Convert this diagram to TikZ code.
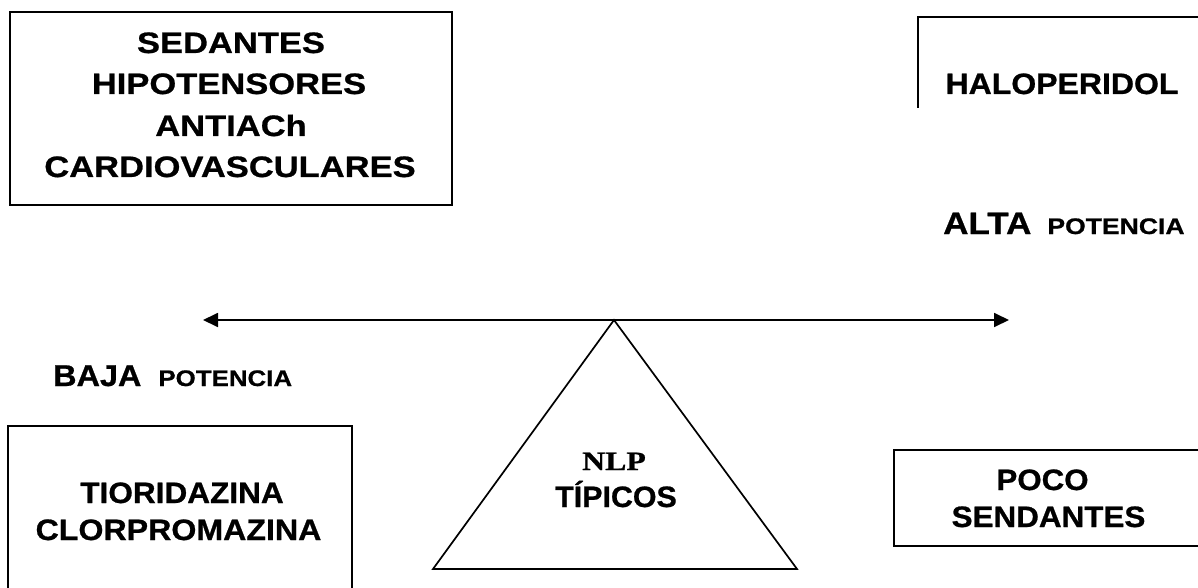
\documentclass[tikz,border=0pt]{standalone}
\usepackage{fontspec}
\setmainfont{Liberation Sans}
\newfontfamily\timesf{Liberation Serif}
\usetikzlibrary{arrows.meta}
\newcommand{\sz}[2]{\fontsize{#1}{#1}\selectfont\addfontfeature{FakeStretch=#2,FakeBold=0.8}}
\tikzset{
  edge/.style={line width=1.7pt, line join=miter},
  txt/.style={inner sep=0pt, anchor=base, font=\bfseries},
  boxst/.style={draw, edge, inner sep=0pt},
  lever/.style={line width=1.8pt, {Triangle[length=15pt,width=14pt]}-{Triangle[length=15pt,width=14pt]}}
}
\begin{document}
\begin{tikzpicture}[x=1pt,y=-1pt]
\useasboundingbox (0,0) rectangle (1198,588);
\fill[white] (0,0) rectangle (1198,588);
\begin{scope}
\clip (0,0) rectangle (1198,588);
% top-left box
\node[boxst, minimum width=442pt, minimum height=193pt] (sedbox) at (231,108.5) {};
\node[txt] (t1) at (231,53) {\sz{29.5}{1.17}SEDANTES};
\node[txt] (t2) at (229,94) {\sz{29.5}{1.17}HIPOTENSORES};
\node[txt] (t3) at (231,136) {\sz{29.5}{1.17}ANTIACh};
\node[txt] (t4) at (230,177) {\sz{29.5}{1.17}CARDIOVASCULARES};
% haloperidol box (open to the right)
\coordinate (h1) at (1210,17);
\coordinate (h2) at (918,17);
\coordinate (h3) at (918,108);
\draw[edge] (h1) -- (h2) -- (h3);
\node[txt] (halo) at (1062,94) {\sz{29.5}{1.085}HALOPERIDOL};
% alta potencia
\node[txt, anchor=base west] (alta) at (943,234) {\sz{31}{1.13}ALTA\hspace{16pt}\sz{22.5}{1.18}POTENCIA};
% baja potencia
\node[txt, anchor=base west] (baja) at (53,386) {\sz{30}{1.08}BAJA\hspace{17pt}\sz{22.5}{1.15}POTENCIA};
% tioridazina box (open at the bottom)
\coordinate (c1) at (8,600);
\coordinate (c2) at (8,426);
\coordinate (c3) at (352,426);
\coordinate (c4) at (352,600);
\draw[edge] (c1) -- (c2) -- (c3) -- (c4);
\node[txt] (tio) at (182,503) {\sz{29.5}{1.07}TIORIDAZINA};
\node[txt] (clor) at (178.5,540) {\sz{29.5}{1.09}CLORPROMAZINA};
% poco sedantes box (open to the right)
\coordinate (p1) at (1210,450);
\coordinate (p2) at (894,450);
\coordinate (p3) at (894,546);
\coordinate (p4) at (1210,546);
\draw[edge] (p1) -- (p2) -- (p3) -- (p4);
\node[txt] (poco) at (1042.5,490) {\sz{29.5}{1.06}POCO};
\node[txt] (send) at (1048.5,527) {\sz{29.5}{1.065}SENDANTES};
% lever and fulcrum
\coordinate (la) at (203,320);
\coordinate (ra) at (1009,320);
\draw[lever] (la) -- (ra);
\coordinate (apex) at (614,320);
\coordinate (bl) at (433,569);
\coordinate (br) at (797,569);
\draw[edge] (apex) -- (bl) -- (br) -- cycle;
\node[txt] (nlp) at (614,470) {\timesf\sz{26.5}{1.2}NLP};
\node[txt] (tip) at (616,507) {\sz{29.5}{1.03}TÍPICOS};
\end{scope}
\end{tikzpicture}
\end{document}
